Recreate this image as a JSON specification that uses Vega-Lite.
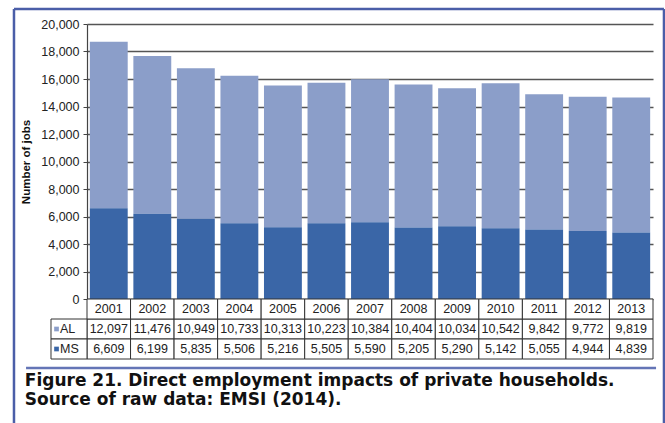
{
  "$schema": "https://vega.github.io/schema/vega-lite/v6.json",
  "padding": {"left": 12, "top": 7, "right": 0, "bottom": 0},
  "bounds": "flush",
  "spacing": 0,
  "resolve": {"scale": {"x": "independent", "y": "independent", "color": "independent"}},
  "config": {"view": {"stroke": null}, "font": "Liberation Sans"},
  "datasets": {
    "jobs": [
      {"year": "2001", "series": "AL", "jobs": 12097}, {"year": "2001", "series": "MS", "jobs": 6609},
      {"year": "2002", "series": "AL", "jobs": 11476}, {"year": "2002", "series": "MS", "jobs": 6199},
      {"year": "2003", "series": "AL", "jobs": 10949}, {"year": "2003", "series": "MS", "jobs": 5835},
      {"year": "2004", "series": "AL", "jobs": 10733}, {"year": "2004", "series": "MS", "jobs": 5506},
      {"year": "2005", "series": "AL", "jobs": 10313}, {"year": "2005", "series": "MS", "jobs": 5216},
      {"year": "2006", "series": "AL", "jobs": 10223}, {"year": "2006", "series": "MS", "jobs": 5505},
      {"year": "2007", "series": "AL", "jobs": 10384}, {"year": "2007", "series": "MS", "jobs": 5590},
      {"year": "2008", "series": "AL", "jobs": 10404}, {"year": "2008", "series": "MS", "jobs": 5205},
      {"year": "2009", "series": "AL", "jobs": 10034}, {"year": "2009", "series": "MS", "jobs": 5290},
      {"year": "2010", "series": "AL", "jobs": 10542}, {"year": "2010", "series": "MS", "jobs": 5142},
      {"year": "2011", "series": "AL", "jobs": 9842}, {"year": "2011", "series": "MS", "jobs": 5055},
      {"year": "2012", "series": "AL", "jobs": 9772}, {"year": "2012", "series": "MS", "jobs": 4944},
      {"year": "2013", "series": "AL", "jobs": 9819}, {"year": "2013", "series": "MS", "jobs": 4839}
    ]
  },
  "vconcat": [
    {
      "width": 566,
      "height": 275,
      "data": {"name": "jobs"},
      "resolve": {"axis": {"y": "independent", "x": "independent"}},
      "layer": [
        {
          "mark": {"type": "bar", "width": {"band": 0.87}},
          "encoding": {
            "x": {"field": "year", "type": "nominal", "scale": {"paddingInner": 0, "paddingOuter": 0}, "axis": null},
            "y": {
              "field": "jobs", "type": "quantitative", "stack": "zero",
              "scale": {"domain": [0, 20000], "nice": false},
              "axis": {
                "values": [0, 2000, 4000, 6000, 8000, 10000, 12000, 14000, 16000, 18000, 20000],
                "format": ",d",
                "labelOverlap": false,
                "title": "Number of jobs",
                "titleFontWeight": "bold",
                "titleFontSize": 11.5,
                "titleColor": "#111",
                "titlePadding": 9,
                "labelFontSize": 12.5,
                "labelColor": "#222",
                "labelPadding": 4,
                "domainColor": "#444",
                "domainWidth": 1.2,
                "tickColor": "#444",
                "tickSize": 4,
                "grid": true,
                "gridColor": "#555",
                "gridWidth": 1.5,
                "gridOpacity": 1
              }
            },
            "color": {"field": "series", "type": "nominal", "scale": {"domain": ["AL", "MS"], "range": ["#8b9ec9", "#3a66a7"]}, "legend": null},
            "order": {"field": "series", "sort": "descending"}
          }
        },
        {
          "data": {"values": [{}]},
          "mark": {"type": "rule", "color": "#4b5ea8", "strokeWidth": 2.5},
          "encoding": {
            "x": {"datum": "2001", "bandPosition": -1.677, "axis": null},
            "x2": {"datum": "2013", "bandPosition": 1.252},
            "y": {"datum": 21091, "axis": null}
          }
        },
        {
          "data": {"values": [{}]},
          "mark": {"type": "rule", "color": "#4b5ea8", "strokeWidth": 2.5},
          "encoding": {
            "x": {"datum": "2001", "bandPosition": -1.677, "axis": null},
            "y": {"datum": 21091, "axis": null},
            "y2": {"datum": -9091}
          }
        },
        {
          "data": {"values": [{}]},
          "mark": {"type": "rule", "color": "#4b5ea8", "strokeWidth": 2.5},
          "encoding": {
            "x": {"datum": "2013", "bandPosition": 1.252, "axis": null},
            "y": {"datum": 21091, "axis": null},
            "y2": {"datum": -9091}
          }
        }
      ]
    },
    {
      "width": 566,
      "height": 60,
      "data": {"name": "jobs"},
      "title": {
        "text": ["Figure 21. Direct employment impacts of private households.", "Source of raw data: EMSI (2014)."],
        "orient": "bottom", "anchor": "start", "frame": "bounds",
        "font": "DejaVu Sans", "fontSize": 17, "fontWeight": "bold", "color": "#111",
        "offset": 4, "lineHeight": 18.5
      },
      "layer": [
        {
          "mark": {"type": "rect", "fill": "white", "stroke": "#333", "strokeWidth": 1},
          "encoding": {
            "x": {"field": "year", "type": "nominal", "scale": {"paddingInner": 0, "paddingOuter": 0}, "axis": null},
            "y": {"field": "series", "type": "nominal", "scale": {"domain": ["Year", "AL", "MS"], "paddingInner": 0, "paddingOuter": 0}, "axis": null}
          }
        },
        {
          "mark": {"type": "text", "fontSize": 12.5, "color": "#222"},
          "encoding": {
            "x": {"field": "year", "type": "nominal"},
            "y": {"field": "series", "type": "nominal"},
            "text": {"field": "jobs", "type": "quantitative", "format": ","}
          }
        },
        {
          "transform": [{"filter": "datum.series == 'AL'"}],
          "mark": {"type": "rect", "fill": "white", "stroke": "#333", "strokeWidth": 1},
          "encoding": {
            "x": {"field": "year", "type": "nominal"},
            "y": {"datum": "Year"}
          }
        },
        {
          "transform": [{"filter": "datum.series == 'AL'"}],
          "mark": {"type": "text", "fontSize": 12.5, "color": "#222"},
          "encoding": {
            "x": {"field": "year", "type": "nominal"},
            "y": {"datum": "Year"},
            "text": {"field": "year", "type": "nominal"}
          }
        },
        {
          "transform": [{"filter": "datum.year == '2001'"}],
          "mark": {"type": "rect", "fill": "white", "stroke": "#333", "strokeWidth": 1},
          "encoding": {
            "x": {"datum": "2001", "bandPosition": -0.827},
            "x2": {"datum": "2001", "bandPosition": 0},
            "y": {"field": "series", "type": "nominal"}
          }
        },
        {
          "transform": [{"filter": "datum.year == '2001'"}],
          "mark": {"type": "square", "size": 22, "opacity": 1},
          "encoding": {
            "x": {"datum": "2001", "bandPosition": -0.7},
            "y": {"field": "series", "type": "nominal"},
            "color": {"field": "series", "type": "nominal", "scale": {"domain": ["AL", "MS"], "range": ["#8b9ec9", "#3a66a7"]}, "legend": null}
          }
        },
        {
          "transform": [{"filter": "datum.year == '2001'"}],
          "mark": {"type": "text", "fontSize": 12.5, "color": "#222", "align": "left"},
          "encoding": {
            "x": {"datum": "2001", "bandPosition": -0.62},
            "y": {"field": "series", "type": "nominal"},
            "text": {"field": "series", "type": "nominal"}
          }
        },
        {
          "data": {"values": [{}]},
          "mark": {"type": "rule", "color": "#6475b6", "strokeWidth": 2.5},
          "encoding": {
            "x": {"datum": "2001", "bandPosition": -1.4},
            "x2": {"datum": "2013", "bandPosition": 1.07},
            "y": {"datum": "MS", "bandPosition": 1.45}
          }
        }
      ]
    }
  ]
}
